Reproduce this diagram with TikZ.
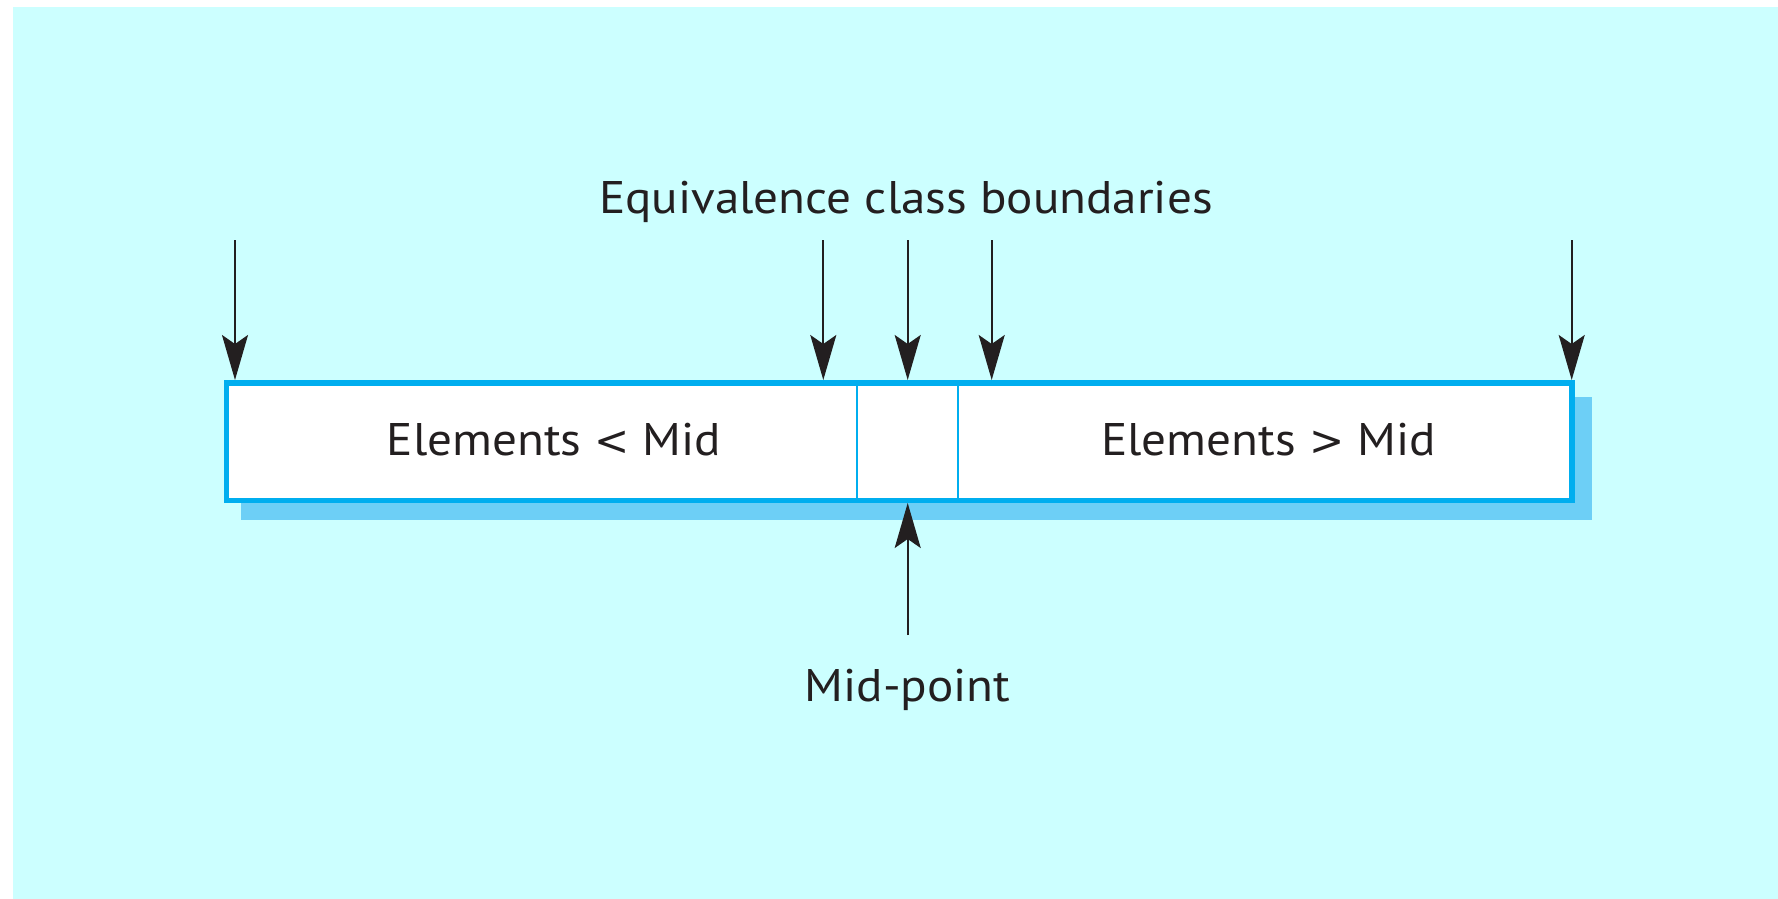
\documentclass[tikz,border=0pt]{standalone}
\usepackage{fontspec}
\setmainfont[FakeStretch=1.075]{PT Sans}
\newfontfamily\relfont{DejaVu Sans}
\newcommand{\relsym}[1]{{\relfont\fontsize{42}{50}\selectfont #1}}
\usetikzlibrary{arrows.meta}
\definecolor{bgcyan}{RGB}{204,255,255}
\definecolor{boxblue}{RGB}{0,174,239}
\definecolor{shadowblue}{RGB}{109,207,246}
\definecolor{ink}{RGB}{35,31,32}
\tikzset{
  lbl/.style={anchor=base, inner sep=0pt, text=ink, font=\fontsize{45.7}{50}\selectfont},
  pointer/.style={draw=ink, line width=2pt, -{Stealth[length=45pt, width=26pt, inset=9pt]}},
  divider/.style={draw=boxblue, line width=2pt},
}
\begin{document}
\begin{tikzpicture}[x=1pt, y=-1pt]
\useasboundingbox (0,0) rectangle (1778,899);
\fill[bgcyan] (13,7) rectangle (1778,899);
% shadow
\fill[shadowblue] (240.7,396.7) rectangle (1591.7,520);
% box
\filldraw[fill=white, draw=boxblue, line width=5.5pt] (226.6,382.8) rectangle (1572,500.3);
\coordinate (d1t) at (857.3,385.5); \coordinate (d1b) at (857.3,497.6);
\coordinate (d2t) at (958.3,385.5); \coordinate (d2b) at (958.3,497.6);
\draw[divider] (d1t) -- (d1b);
\draw[divider] (d2t) -- (d2b);
% labels
\node[lbl] (title) at (906,213.3) {Equivalence class boundaries};
\node[lbl] (less) at (554,455) {Elements \relsym{<} Mid};
\node[lbl] (more) at (1268.5,455) {Elements \relsym{>} Mid};
\node[lbl] (mid) at (907.5,701) {Mid-point};
% arrow endpoints
\coordinate (s1) at (235,240);   \coordinate (t1) at (235,380);
\coordinate (s2) at (823.3,240); \coordinate (t2) at (823.3,380);
\coordinate (s3) at (907.7,240); \coordinate (t3) at (907.7,380);
\coordinate (s4) at (991.7,240); \coordinate (t4) at (991.7,380);
\coordinate (s5) at (1571.7,240); \coordinate (t5) at (1571.7,380);
\coordinate (ms) at (907.7,635); \coordinate (mt) at (907.7,503);
\draw[pointer] (s1) -- (t1);
\draw[pointer] (s2) -- (t2);
\draw[pointer] (s3) -- (t3);
\draw[pointer] (s4) -- (t4);
\draw[pointer] (s5) -- (t5);
\draw[pointer] (ms) -- (mt);
\end{tikzpicture}
\end{document}
